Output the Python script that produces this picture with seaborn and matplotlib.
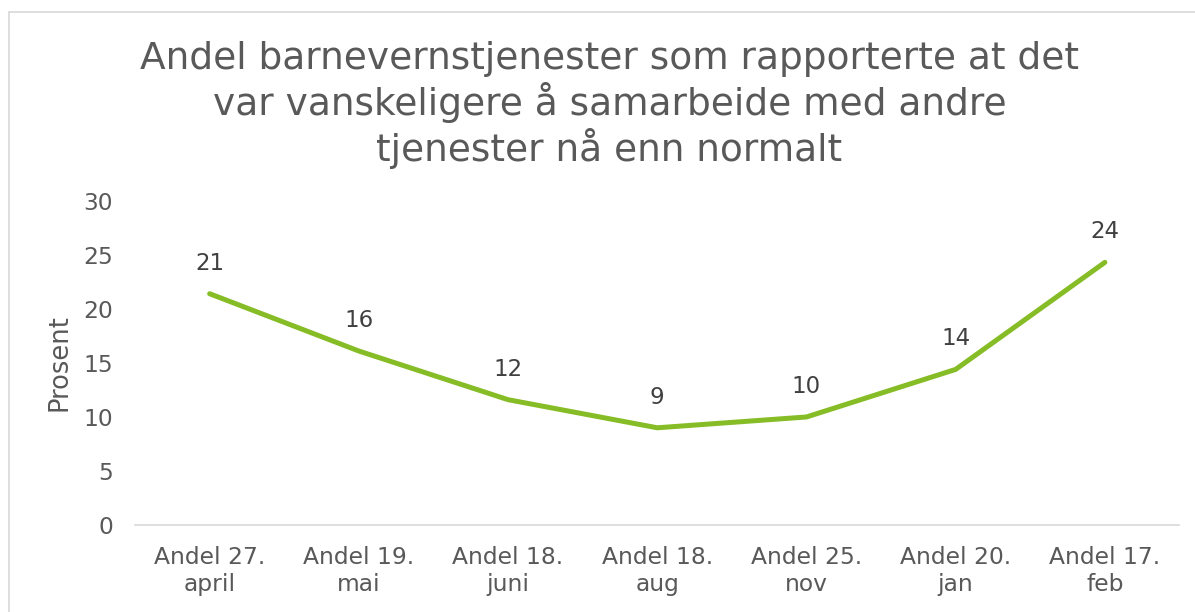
import pandas as pd
import seaborn as sns
import matplotlib.pyplot as plt
from matplotlib.lines import Line2D

# Values
periods = ["Andel 27.\napril", "Andel 19.\nmai", "Andel 18.\njuni", "Andel 18.\naug",
           "Andel 25.\nnov", "Andel 20.\njan", "Andel 17.\nfeb"]
shares = [21.4, 16.1, 11.6, 9.0, 10.0, 14.4, 24.3]
y_ticks = [0, 5, 10, 15, 20, 25, 30]

title = ("Andel barnevernstjenester som rapporterte at det\n"
         "var vanskeligere å samarbeide med andre\n"
         "tjenester nå enn normalt")

df = pd.DataFrame({"periode": periods, "andel": shares})

sns.set_theme(style="white")
plt.rcParams["font.family"] = ["DejaVu Sans"]

fig = plt.figure(figsize=(11.95, 6.12), dpi=100)
ax = fig.add_axes([0.113, 0.142, 0.874, 0.530])

sns.lineplot(data=df, x="periode", y="andel", ax=ax, color="#86BC25",
             linewidth=3.6, sort=False)
ax.lines[0].set_solid_capstyle("round")

# data labels above each point
for i, v in enumerate(shares):
    ax.annotate(f"{round(v)}", (i, v), xytext=(0, 22), textcoords="offset points",
                ha="center", va="center", fontsize=16.5, color="#404040")

ax.set_xlim(-0.5, len(periods) - 0.5)
ax.set_ylim(0, 30)
ax.set_yticks(y_ticks)
ax.set_ylabel("Prosent", fontsize=18.5, color="#595959", va="center")
ax.yaxis.set_label_coords(-0.072, 0.5)
ax.set_xlabel("")
ax.tick_params(axis="both", labelsize=16.8, colors="#595959", length=0)
ax.tick_params(axis="y", pad=16)
ax.tick_params(axis="x", pad=15)

for side in ["top", "right", "left"]:
    ax.spines[side].set_visible(False)
ax.spines["bottom"].set_color("#D9D9D9")
ax.spines["bottom"].set_linewidth(1.2)

fig.text(0.51, 0.829, title, ha="center", va="center", fontsize=27,
         color="#595959", linespacing=1.15)

# chart frame (left and top edges visible in the crop)
fig.add_artist(Line2D([0.0075, 0.0075], [0, 0.98], transform=fig.transFigure,
                      color="#D9D9D9", linewidth=1.2))
fig.add_artist(Line2D([0.0075, 1.0], [0.98, 0.98], transform=fig.transFigure,
                      color="#D9D9D9", linewidth=1.2))

fig.savefig("out.png", dpi=100, facecolor="white")
